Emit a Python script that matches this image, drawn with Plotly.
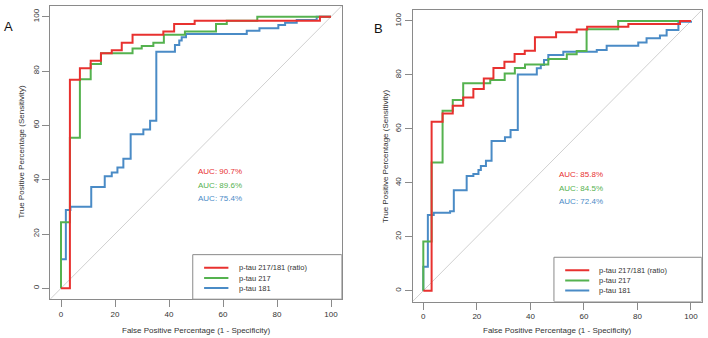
import plotly.graph_objects as go

# ---------------- data ----------------
series_names = ["p-tau 217/181 (ratio)", "p-tau 217", "p-tau 181"]
colors = ["#E8312F", "#55B24F", "#4A8BC6"]
tick_vals = [0, 20, 40, 60, 80, 100]

# Panel A  (x = false positive %, y = true positive %, step corners, 'hv')
a_ratio_x = [0, 3.3, 7.0, 11.0, 14.8, 18.8, 22.5, 26.5, 37.9, 41.9, 49.5, 95.9, 100]
a_ratio_y = [0, 76.8, 81.0, 83.8, 86.5, 87.6, 90.4, 93.3, 94.5, 97.3, 98.5, 100, 100]
a_217_x = [0, 0, 3.3, 7.0, 11.0, 14.8, 26.5, 29.9, 34.2, 38.1, 45.9, 57.4, 61.4, 72.7, 100]
a_217_y = [0, 24.3, 55.4, 77.0, 82.6, 86.5, 88.3, 89.2, 90.4, 93.3, 94.5, 97.3, 98.5, 100, 100]
a_181_x = [0, 0, 1.8, 3.5, 11.2, 16.2, 18.8, 20.9, 23.1, 25.8, 30.5, 33.0, 35.3, 42.2, 43.8,
           44.7, 46.3, 68.8, 73.5, 80.5, 83.0, 87.3, 94.7, 100]
a_181_y = [0, 10.7, 28.8, 30.0, 37.3, 41.3, 42.6, 44.5, 47.7, 56.7, 58.5, 61.7, 87.1, 89.6, 91.2,
           92.4, 93.6, 94.8, 95.7, 96.9, 97.8, 98.8, 100, 100]
a_auc = ["AUC: 90.7%", "AUC: 89.6%", "AUC: 75.4%"]

# Panel B
b_ratio_x = [0, 3.1, 7.2, 11.0, 14.9, 18.7, 22.6, 26.2, 30.3, 34.1, 37.9, 41.7, 49.6, 57.3,
             61.2, 76.6, 95.9, 100]
b_ratio_y = [0, 62.6, 65.7, 68.6, 71.6, 74.8, 78.7, 82.6, 84.9, 87.8, 89.0, 94.0, 95.8, 96.8,
             97.9, 98.9, 100, 100]
b_217_x = [0, 0, 3.1, 7.2, 11.0, 14.9, 25.0, 30.4, 34.2, 38.0, 46.7, 53.6, 57.3, 61.0, 72.8, 100]
b_217_y = [0, 18.2, 47.5, 66.7, 70.7, 76.9, 78.1, 80.5, 82.6, 83.9, 85.9, 87.7, 88.9, 96.9, 100, 100]
b_181_x = [0, 0, 1.7, 3.9, 10.0, 11.4, 16.2, 18.7, 20.6, 21.5, 23.4, 25.5, 30.5, 32.6, 35.3,
           42.4, 43.9, 45.1, 46.7, 52.3, 64.8, 68.5, 80.3, 83.4, 88.4, 90.9, 95.3, 100]
b_181_y = [0, 8.9, 28.1, 28.9, 29.5, 37.2, 42.5, 43.3, 44.8, 46.2, 48.2, 55.5, 56.9, 59.6, 80.2,
           82.5, 83.7, 85.5, 87.4, 88.6, 89.2, 90.8, 92.0, 93.6, 94.6, 96.7, 99.7, 100]
b_auc = ["AUC: 85.8%", "AUC: 84.5%", "AUC: 72.4%"]

auc_y = [43, 38, 33]
legend_rows_y = [7.6, 3.8, 0.1]

# ---------------- figure ----------------
W, H = 708, 338
FONT = "Liberation Sans, Arial, sans-serif"
TXT = "#333333"
AX = "#8a8a8a"

fig = go.Figure()

panels = [
    ("x", "y", [(a_181_x, a_181_y), (a_217_x, a_217_y), (a_ratio_x, a_ratio_y)], a_auc),
    ("x2", "y2", [(b_181_x, b_181_y), (b_217_x, b_217_y), (b_ratio_x, b_ratio_y)], b_auc),
]
order = [2, 1, 0]  # draw blue, green, red (red on top)

for xr, yr, curves, aucs in panels:
    # diagonal reference line
    fig.add_shape(type="line", xref=xr, yref=yr, x0=-4, y0=-4, x1=104, y1=104,
                  line=dict(color="#d0d0d0", width=1), layer="below")
    for (cx, cy), idx in zip(curves, order):
        fig.add_trace(go.Scatter(x=cx, y=cy, mode="lines", line_shape="hv",
                                 line=dict(color=colors[idx], width=2),
                                 name=series_names[idx], showlegend=False,
                                 xaxis=xr, yaxis=yr, hoverinfo="skip"))
    for i, t in enumerate(aucs):
        fig.add_annotation(xref=xr, yref=yr, x=50, y=auc_y[i], text=t, showarrow=False,
                           xanchor="left", yanchor="middle",
                           font=dict(family=FONT, size=8, color=colors[i]))
    # legend box
    fig.add_shape(type="rect", xref=xr, yref=yr, x0=48.8, x1=104, y0=-4, y1=12.4,
                  line=dict(color=AX, width=1), fillcolor="white", layer="above")
    for i, nm in enumerate(series_names):
        fig.add_shape(type="line", xref=xr, yref=yr, x0=53, x1=62,
                      y0=legend_rows_y[i], y1=legend_rows_y[i],
                      line=dict(color=colors[i], width=2), layer="above")
        fig.add_annotation(xref=xr, yref=yr, x=65, y=legend_rows_y[i], text=nm,
                           showarrow=False, xanchor="left", yanchor="middle",
                           font=dict(family=FONT, size=7.5, color=TXT))

def px_x(p):
    return p / W

def px_y(p):
    return 1 - p / H

axis_common = dict(range=[-4, 104], tickvals=tick_vals, ticks="outside", ticklen=7,
                   tickcolor=AX, showline=True, linecolor=AX, linewidth=1, mirror=True,
                   showgrid=False, zeroline=False,
                   tickfont=dict(family=FONT, size=8, color=TXT))

fig.update_layout(
    width=W, height=H, autosize=False,
    margin=dict(l=0, r=0, t=0, b=0),
    paper_bgcolor="white", plot_bgcolor="white",
    showlegend=False,
    xaxis=dict(domain=[px_x(50.2), px_x(341.8)], anchor="y", **axis_common),
    yaxis=dict(domain=[px_y(299.2), px_y(5.8)], anchor="x", tickangle=-90, **axis_common),
    xaxis2=dict(domain=[px_x(412.6), px_x(701.7)], anchor="y2", **axis_common),
    yaxis2=dict(domain=[px_y(301.5), px_y(10.2)], anchor="x2", tickangle=-90, **axis_common),
)

xtitle = "False Positive Percentage (1 - Specificity)"
ytitle = "True Positive Percentage (Sensitivity)"
for cx, ty, lx, cy in [(196, 330, 21, 152.5), (557, 330.7, 385, 156)]:
    fig.add_annotation(xref="paper", yref="paper", x=px_x(cx), y=px_y(ty), text=xtitle,
                       showarrow=False, xanchor="center", yanchor="middle",
                       font=dict(family=FONT, size=8, color=TXT))
    fig.add_annotation(xref="paper", yref="paper", x=px_x(lx), y=px_y(cy), text=ytitle,
                       textangle=-90, showarrow=False, xanchor="center", yanchor="middle",
                       font=dict(family=FONT, size=8, color=TXT))

for lab, lx, ly in [("A", 8, 26.5), ("B", 378, 28.5)]:
    fig.add_annotation(xref="paper", yref="paper", x=px_x(lx), y=px_y(ly), text=lab,
                       showarrow=False, xanchor="center", yanchor="middle",
                       font=dict(family=FONT, size=13, color="#111111"))

fig.write_html("out.html")
